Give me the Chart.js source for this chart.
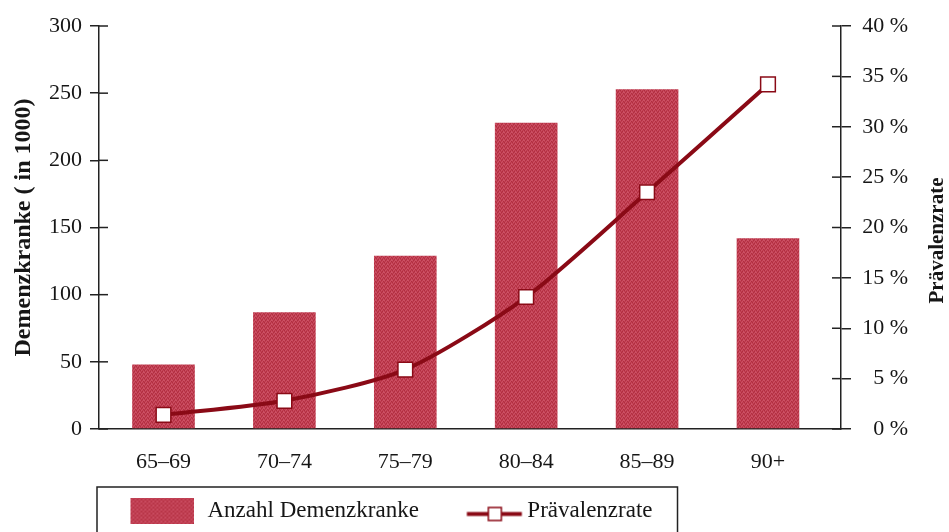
<!DOCTYPE html>
<html><head><meta charset="utf-8">
<script src="https://cdn.jsdelivr.net/npm/chart.js@4.4.1/dist/chart.umd.min.js"></script>
<style>html,body{margin:0;padding:0;background:#fff;}canvas{display:block;}</style>
</head><body>
<canvas id="c" width="949" height="532"></canvas>
<script>
// ---- data ----
const categories = ['65–69', '70–74', '75–79', '80–84', '85–89', '90+'];
const patientsThousands = [48, 87, 129, 228, 253, 142];
const prevalencePercent = [1.4, 2.8, 5.9, 13.1, 23.5, 34.2];
const leftTicks = [0, 50, 100, 150, 200, 250, 300];
const rightTicks = [0, 5, 10, 15, 20, 25, 30, 35, 40];
const seriesNames = ['Anzahl Demenzkranke', 'Prävalenzrate'];
const axisTitles = ['Demenzkranke ( in 1000)', 'Prävalenzrate'];

const FONT = 'Liberation Serif';
const BAR_BASE = '#C03D50';
const LINE_COL = '#8A0A16';
const INK = '#161616';
Chart.defaults.font.family = FONT;
Chart.defaults.color = INK;

const canvas = document.getElementById('c');
const ctx = canvas.getContext('2d');

function makeBarPattern(target) {
  const c = document.createElement('canvas'); c.width = 4; c.height = 4;
  const g = c.getContext('2d');
  g.fillStyle = BAR_BASE; g.fillRect(0, 0, 4, 4);
  g.fillStyle = '#CC5064';
  [[0,0],[2,1],[1,2],[3,3],[3,0]].forEach(([x,y]) => g.fillRect(x, y, 1, 1));
  g.fillStyle = '#B02E40';
  [[1,0],[3,1],[0,2],[2,3]].forEach(([x,y]) => g.fillRect(x, y, 1, 1));
  return target.createPattern(c, 'repeat');
}
const barPattern = makeBarPattern(ctx);

// legend swatches
const barSwatch = document.createElement('canvas');
barSwatch.width = 68; barSwatch.height = 26;
(function(){ const g = barSwatch.getContext('2d'); g.fillStyle = makeBarPattern(g); g.fillRect(5,0,63,26); })();
const lineSwatch = document.createElement('canvas');
lineSwatch.width = 90; lineSwatch.height = 30;
(function(){
  const g = lineSwatch.getContext('2d');
  g.strokeStyle = LINE_COL; g.lineWidth = 4;
  g.beginPath(); g.moveTo(32.5, 18.5); g.lineTo(87.5, 18.5); g.stroke();
  g.fillStyle = '#fff'; g.fillRect(54, 12, 13, 13);
  g.lineWidth = 1.5; g.strokeRect(54, 12, 13, 13);
})();
const swatches = [barSwatch, lineSwatch];

const innerTicks = {
  id: 'innerTicks',
  afterDraw(chart) {
    const c = chart.ctx;
    [['y', 1], ['y1', -1]].forEach(([id, dir]) => {
      const s = chart.scales[id];
      const x0 = dir > 0 ? s.right : s.left;
      c.save(); c.strokeStyle = '#222'; c.lineWidth = 1.5;
      s.ticks.forEach(t => {
        const py = s.getPixelForValue(t.value);
        c.beginPath(); c.moveTo(x0, py); c.lineTo(x0 + dir * 9, py); c.stroke();
      });
      c.restore();
    });
  }
};

const rightTitle = {
  id: 'rightTitle',
  afterDraw(chart) {
    const c = chart.ctx, a = chart.chartArea;
    c.save();
    c.translate(chart.width - 11, (a.top + a.bottom) / 2 + 13);
    c.rotate(-Math.PI / 2);
    c.font = 'bold 21px "' + FONT + '"';
    c.fillStyle = INK; c.textAlign = 'center'; c.textBaseline = 'middle';
    c.fillText(axisTitles[1], 0, 0);
    c.restore();
  }
};

const legendBox = {
  id: 'legendBox',
  afterDraw(chart) {
    const lg = chart.legend, hb = lg.legendHitBoxes;
    if (!hb || !hb.length) return;
    const c = chart.ctx;
    const left = lg.left - 2, top = hb[0].top - 12;
    const right = hb[hb.length - 1].left + hb[hb.length - 1].width + 25;
    c.save(); c.strokeStyle = '#222'; c.lineWidth = 1.5;
    c.strokeRect(left, top, right - left, chart.height - top + 10);
    c.restore();
  }
};

new Chart(ctx, {
  type: 'bar',
  data: {
    datasets: [
      {
        type: 'bar',
        label: seriesNames[0],
        data: patientsThousands.map((v, i) => ({ x: i + 1, y: v })),
        backgroundColor: barPattern,
        borderWidth: 0,
        barPercentage: 0.518,
        categoryPercentage: 1,
        xAxisID: 'x', yAxisID: 'y',
        order: 2
      },
      {
        type: 'line',
        label: seriesNames[1],
        data: prevalencePercent.map((v, i) => ({ x: i + 1, y: v })),
        borderColor: LINE_COL,
        borderWidth: 4,
        tension: 0.25,
        pointStyle: 'rect',
        pointRadius: 10.4,
        pointBackgroundColor: '#fff',
        pointBorderColor: LINE_COL,
        pointBorderWidth: 1.5,
        xAxisID: 'x', yAxisID: 'y1',
        order: 1
      }
    ]
  },
  options: {
    responsive: false,
    animation: false,
    devicePixelRatio: 1,
    layout: { padding: { top: 26, left: 0, right: 41, bottom: 0 } },
    scales: {
      x: {
        type: 'linear',
        position: 'bottom',
        offset: false,
        min: 0.4665,
        max: 6.604,
        afterFit: s => { s.height = 46; },
        grid: { drawOnChartArea: false, drawTicks: false, offset: false },
        border: { color: '#222', width: 1.5 },
        ticks: {
          stepSize: 1,
          includeBounds: false,
          autoSkip: false,
          maxRotation: 0,
          padding: 20,
          font: { size: 22 },
          color: INK,
          callback: v => (Number.isInteger(v) && categories[v - 1]) ? categories[v - 1] : ''
        }
      },
      y: {
        type: 'linear',
        position: 'left',
        min: leftTicks[0],
        max: leftTicks[leftTicks.length - 1],
        afterFit: s => { s.width = 99; },
        grid: { drawOnChartArea: false, tickLength: 9, color: '#222', lineWidth: 1.5 },
        border: { color: '#222', width: 1.5 },
        ticks: { stepSize: leftTicks[1] - leftTicks[0], padding: 8, font: { size: 22 }, color: INK },
        title: { display: true, text: axisTitles[0], font: { size: 24, weight: 'bold' }, color: INK, padding: { top: 9, bottom: 0 } }
      },
      y1: {
        type: 'linear',
        position: 'right',
        min: rightTicks[0],
        max: rightTicks[rightTicks.length - 1],
        afterFit: s => { s.width = 67; },
        grid: { drawOnChartArea: false, tickLength: 10, color: '#222', lineWidth: 1.5 },
        border: { color: '#222', width: 1.5 },
        ticks: { stepSize: rightTicks[1] - rightTicks[0], padding: 11, crossAlign: 'far', font: { size: 22 }, color: INK, callback: v => v + ' %' }
      }
    },
    plugins: {
      tooltip: { enabled: false },
      legend: {
        position: 'bottom',
        align: 'start',
        fullSize: false,
        labels: {
          usePointStyle: true,
          pointStyleWidth: 73,
          padding: 24,
          color: INK,
          font: { size: 23 },
          generateLabels: () => seriesNames.map((name, i) => ({
            text: name, pointStyle: swatches[i], datasetIndex: i, hidden: false,
            lineWidth: 0, fillStyle: 'transparent', strokeStyle: 'transparent', fontColor: INK
          }))
        }
      }
    }
  },
  plugins: [innerTicks, rightTitle, legendBox]
});
</script>
</body></html>
